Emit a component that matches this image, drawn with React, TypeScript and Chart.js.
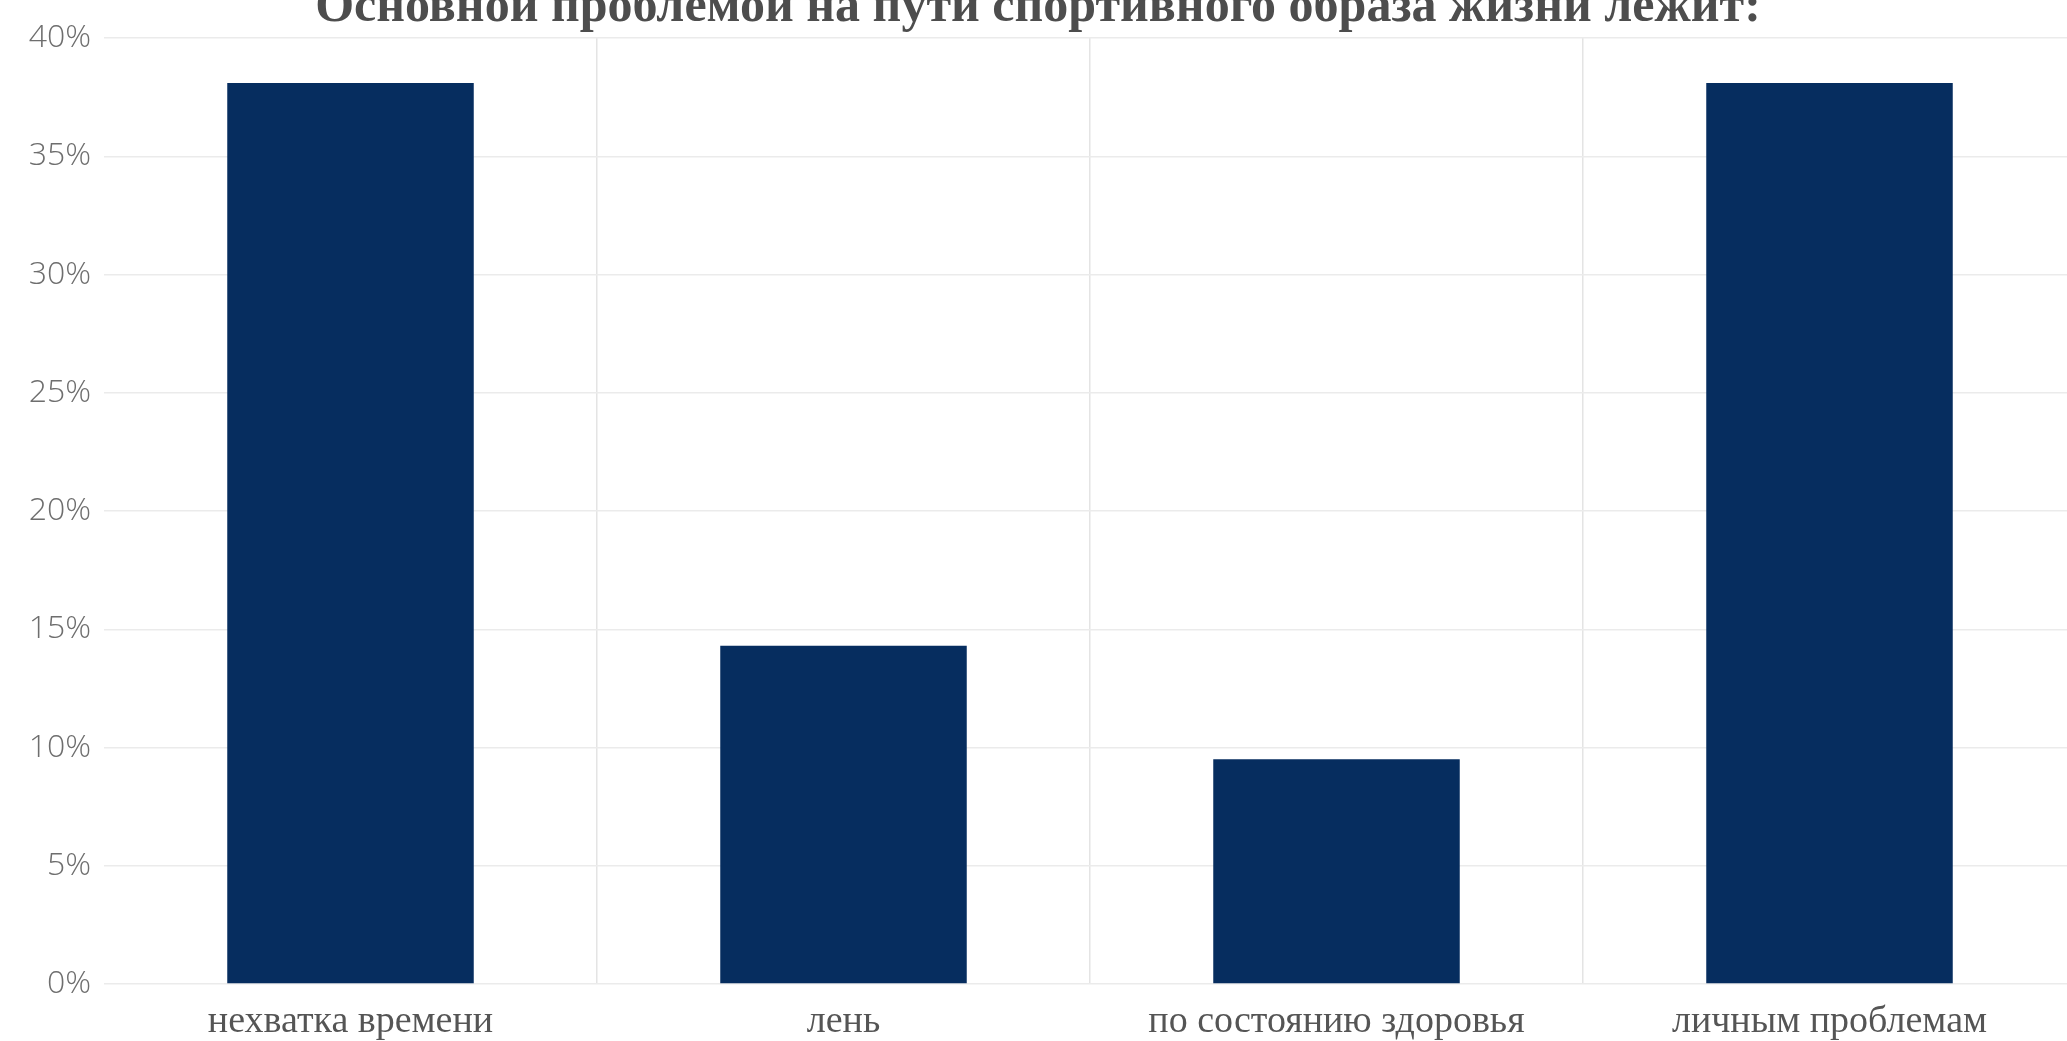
import React, { useEffect, useRef } from "react";
import { Chart, registerables } from "chart.js";

Chart.register(...registerables);

// Survey results: share of respondents per answer
const titleText = "Основной проблемой на пути спортивного образа жизни лежит:";
const categories = ["нехватка времени", "лень", "по состоянию здоровья", "личным проблемам"];
const shares = [38.1, 14.3, 9.5, 38.1];
const yMin = 0;
const yMax = 40;
const yStep = 5;

const BAR_COLOR = "#062d5f";
const GRID_H = "#ebebeb";
const GRID_V = "#e4e4e4";

const CANVAS_W = 2076;
const CANVAS_H = 1073;
const CANVAS_TOP = -22;

export default function App() {
  const canvasRef = useRef<HTMLCanvasElement | null>(null);

  useEffect(() => {
    document.body.style.margin = "0";
    const canvas = canvasRef.current;
    if (!canvas) return;

    const chart = new Chart(canvas, {
      type: "bar",
      data: {
        labels: categories,
        datasets: [
          {
            data: shares,
            backgroundColor: BAR_COLOR,
            borderWidth: 0,
            barPercentage: 0.5,
            categoryPercentage: 1,
          },
        ],
      },
      options: {
        animation: false,
        responsive: false,
        maintainAspectRatio: false,
        layout: { padding: 0 },
        plugins: {
          legend: { display: false },
          tooltip: { enabled: false },
          title: {
            display: true,
            text: titleText,
            color: "#4d4d4d",
            font: { family: "'Liberation Serif', serif", size: 50, weight: "bold" },
            padding: { top: 0, bottom: 0 },
          },
        },
        scales: {
          x: {
            grid: {
              offset: true,
              drawTicks: false,
              lineWidth: 1.5,
              color: (ctx: any) => (ctx.index === 0 ? "rgba(0,0,0,0)" : GRID_V),
            },
            border: { display: false },
            ticks: {
              color: "#555555",
              padding: 15,
              font: { family: "'Liberation Serif', serif", size: 38 },
            },
            afterFit: (scale: any) => {
              scale.height = 67;
            },
          },
          y: {
            min: yMin,
            max: yMax,
            grid: { color: GRID_H, drawTicks: false, lineWidth: 1.5 },
            border: { display: false },
            ticks: {
              stepSize: yStep,
              padding: 13,
              color: "#6e6e6e",
              font: { family: "'Open Sans', sans-serif", size: 32, weight: 300 },
              callback: (v: any) => `${v}%`,
            },
            afterFit: (scale: any) => {
              scale.width = 104;
            },
          },
        },
      },
    });

    return () => chart.destroy();
  }, []);

  return (
    <div
      style={{
        position: "fixed",
        left: 0,
        top: 0,
        width: "100vw",
        height: "100vh",
        overflow: "hidden",
        background: "#ffffff",
      }}
    >
      <canvas
        ref={canvasRef}
        width={CANVAS_W}
        height={CANVAS_H}
        style={{ position: "absolute", left: 0, top: CANVAS_TOP, width: CANVAS_W, height: CANVAS_H }}
      />
    </div>
  );
}
